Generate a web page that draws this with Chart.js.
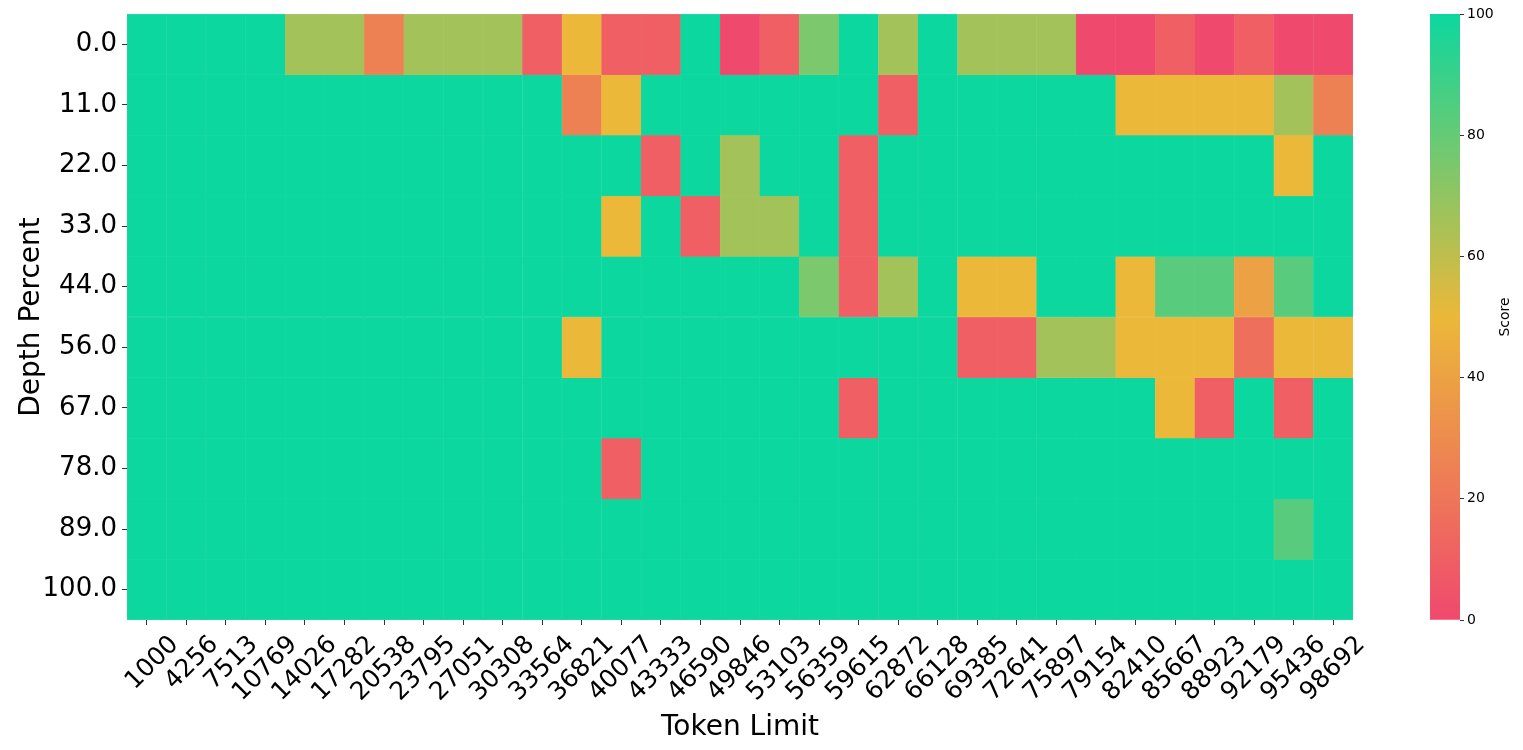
<!DOCTYPE html>
<html>
<head>
<meta charset="utf-8">
<script src="https://cdn.jsdelivr.net/npm/chart.js@4.4.1/dist/chart.umd.min.js"></script>
<style>
  html, body { margin: 0; padding: 0; background: #ffffff; }
  #wrap { position: relative; width: 1523px; height: 750px; }
  #heat { position: absolute; left: 0; top: 0; }
  #cbar { position: absolute; left: 1400px; top: 0; }
</style>
</head>
<body>
<div id="wrap">
  <canvas id="heat" width="1523" height="750"></canvas>
  <canvas id="cbar" width="123" height="750"></canvas>
</div>
<script>
// ---------- data ----------
const tokenLimits = [1000, 4256, 7513, 10769, 14026, 17282, 20538, 23795, 27051, 30308,
  33564, 36821, 40077, 43333, 46590, 49846, 53103, 56359, 59615, 62872,
  66128, 69385, 72641, 75897, 79154, 82410, 85667, 88923, 92179, 95436, 98692];
const depthLabels = ["0.0", "11.0", "22.0", "33.0", "44.0", "56.0", "67.0", "78.0", "89.0", "100.0"];

const scoresDepth0   = [100,100,100,100, 66, 66, 25, 66, 66, 66, 10, 50, 10, 10,100,  0, 10, 75,100, 66,100, 66, 66, 66,  0,  0, 10,  0, 10,  0,  0];
const scoresDepth11  = [100,100,100,100,100,100,100,100,100,100,100, 25, 50,100,100,100,100,100,100, 10,100,100,100,100,100, 50, 50, 50, 50, 66, 25];
const scoresDepth22  = [100,100,100,100,100,100,100,100,100,100,100,100,100, 10,100, 66,100,100, 10,100,100,100,100,100,100,100,100,100,100, 50,100];
const scoresDepth33  = [100,100,100,100,100,100,100,100,100,100,100,100, 50,100, 10, 66, 66,100, 10,100,100,100,100,100,100,100,100,100,100,100,100];
const scoresDepth44  = [100,100,100,100,100,100,100,100,100,100,100,100,100,100,100,100,100, 75, 10, 66,100, 50, 50,100,100, 50, 83, 83, 40, 83,100];
const scoresDepth56  = [100,100,100,100,100,100,100,100,100,100,100, 50,100,100,100,100,100,100,100,100,100, 10, 10, 66, 66, 50, 50, 50, 17, 50, 50];
const scoresDepth67  = [100,100,100,100,100,100,100,100,100,100,100,100,100,100,100,100,100,100, 10,100,100,100,100,100,100,100, 50, 10,100, 10,100];
const scoresDepth78  = [100,100,100,100,100,100,100,100,100,100,100,100, 10,100,100,100,100,100,100,100,100,100,100,100,100,100,100,100,100,100,100];
const scoresDepth89  = [100,100,100,100,100,100,100,100,100,100,100,100,100,100,100,100,100,100,100,100,100,100,100,100,100,100,100,100,100, 83,100];
const scoresDepth100 = [100,100,100,100,100,100,100,100,100,100,100,100,100,100,100,100,100,100,100,100,100,100,100,100,100,100,100,100,100,100,100];

const scoreRows = [scoresDepth0, scoresDepth11, scoresDepth22, scoresDepth33, scoresDepth44,
  scoresDepth56, scoresDepth67, scoresDepth78, scoresDepth89, scoresDepth100];

const colorbarTicks = [0, 20, 40, 60, 80, 100];

// ---------- colour map ----------
const cmapStops = [[0, [0xF0, 0x49, 0x6E]], [0.5, [0xEB, 0xB8, 0x39]], [1, [0x0C, 0xD7, 0x9F]]];
function cmapRGB(v) {
  const t = Math.max(0, Math.min(1, v / 100));
  let i = 0;
  while (i < cmapStops.length - 2 && t > cmapStops[i + 1][0]) i++;
  const [t0, c0] = cmapStops[i], [t1, c1] = cmapStops[i + 1];
  const f = (t - t0) / (t1 - t0);
  return c0.map((c, k) => Math.round(c + (c1[k] - c) * f));
}
function cmap(v) { const c = cmapRGB(v); return `rgb(${c[0]},${c[1]},${c[2]})`; }
function cmapLight(v) {
  const c = cmapRGB(v).map(x => Math.round(x + (255 - x) * 0.07));
  return `rgb(${c[0]},${c[1]},${c[2]})`;
}

const FONT = "'DejaVu Sans', 'Liberation Sans', sans-serif";

// ---------- heatmap ----------
const datasets = scoreRows.map((row, r) => ({
  label: depthLabels[r],
  data: row.map(() => 1),
  backgroundColor: row.map(cmap),
  borderColor: row.map(cmapLight),
  borderWidth: 0.5,
  borderSkipped: false,
  categoryPercentage: 1.0,
  barPercentage: 1.0,
  stack: 'grid'
}));

new Chart(document.getElementById('heat'), {
  type: 'bar',
  data: { labels: tokenLimits.map(String), datasets },
  options: {
    responsive: false,
    animation: false,
    events: [],
    layout: { padding: { top: 14, right: 170, left: 0, bottom: 0 } },
    plugins: { legend: { display: false }, tooltip: { enabled: false } },
    scales: {
      x: {
        type: 'category',
        stacked: true,
        offset: true,
        border: { display: false },
        grid: { display: true, drawOnChartArea: false, drawTicks: true, tickLength: 5, offset: false, color: '#333333', lineWidth: 1 },
        ticks: {
          autoSkip: false, maxRotation: 45, minRotation: 45,
          font: { family: FONT, size: 25 }, color: '#000000',
          labelOffset: 28, padding: 5
        },
        title: { display: true, text: 'Token Limit', font: { family: FONT, size: 28 }, color: '#000000', padding: { top: 0, bottom: 5 } },
        afterFit: (s) => { s.height = 130; s.paddingLeft = 0; s.paddingRight = 0; }
      },
      y: {
        type: 'linear',
        stacked: true,
        min: 0, max: 10,
        reverse: true,
        border: { display: false },
        grid: { display: true, drawOnChartArea: false, drawTicks: true, tickLength: 5, color: '#333333', lineWidth: 1 },
        afterBuildTicks: (s) => { s.ticks = depthLabels.map((_, i) => ({ value: i + 0.5 })); },
        ticks: {
          font: { family: FONT, size: 26 }, color: '#000000', padding: 5,
          callback: (v) => depthLabels[Math.round(v - 0.5)]
        },
        title: { display: true, text: 'Depth Percent', font: { family: FONT, size: 28 }, color: '#000000', padding: { top: 15, bottom: 0 } },
        afterFit: (s) => { s.width = 127; s.paddingTop = 0; s.paddingBottom = 0; }
      }
    }
  }
});

// ---------- colour bar ----------
const scoreTitlePlugin = {
  id: 'scoreTitle',
  afterDraw(chart) {
    const { ctx, chartArea } = chart;
    ctx.save();
    ctx.translate(105, (chartArea.top + chartArea.bottom) / 2);
    ctx.rotate(-Math.PI / 2);
    ctx.font = `14px ${FONT}`;
    ctx.fillStyle = '#000000';
    ctx.textAlign = 'center';
    ctx.textBaseline = 'middle';
    ctx.fillText('Score', 0, 0);
    ctx.restore();
  }
};

new Chart(document.getElementById('cbar'), {
  type: 'bar',
  data: {
    labels: ['Score'],
    datasets: [{
      data: [[colorbarTicks[0], colorbarTicks[colorbarTicks.length - 1]]],
      backgroundColor: (ctx) => {
        const area = ctx.chart.chartArea;
        if (!area) return cmap(50);
        const g = ctx.chart.ctx.createLinearGradient(0, area.bottom, 0, area.top);
        cmapStops.forEach(([t, c]) => g.addColorStop(t, `rgb(${c[0]},${c[1]},${c[2]})`));
        return g;
      },
      borderWidth: 0,
      categoryPercentage: 1.0,
      barPercentage: 1.0
    }]
  },
  options: {
    responsive: false,
    animation: false,
    events: [],
    layout: { padding: { top: 14, left: 30, right: 0, bottom: 130 } },
    plugins: { legend: { display: false }, tooltip: { enabled: false } },
    scales: {
      x: { display: false },
      y: {
        position: 'right',
        min: 0, max: 100,
        border: { display: false },
        grid: { display: true, drawOnChartArea: false, drawTicks: true, tickLength: 4, color: '#333333' },
        ticks: { stepSize: 20, font: { family: FONT, size: 14 }, color: '#000000', padding: 3 },
        afterFit: (s) => { s.width = 63; s.paddingTop = 0; s.paddingBottom = 0; }
      }
    }
  },
  plugins: [scoreTitlePlugin]
});
</script>
</body>
</html>
